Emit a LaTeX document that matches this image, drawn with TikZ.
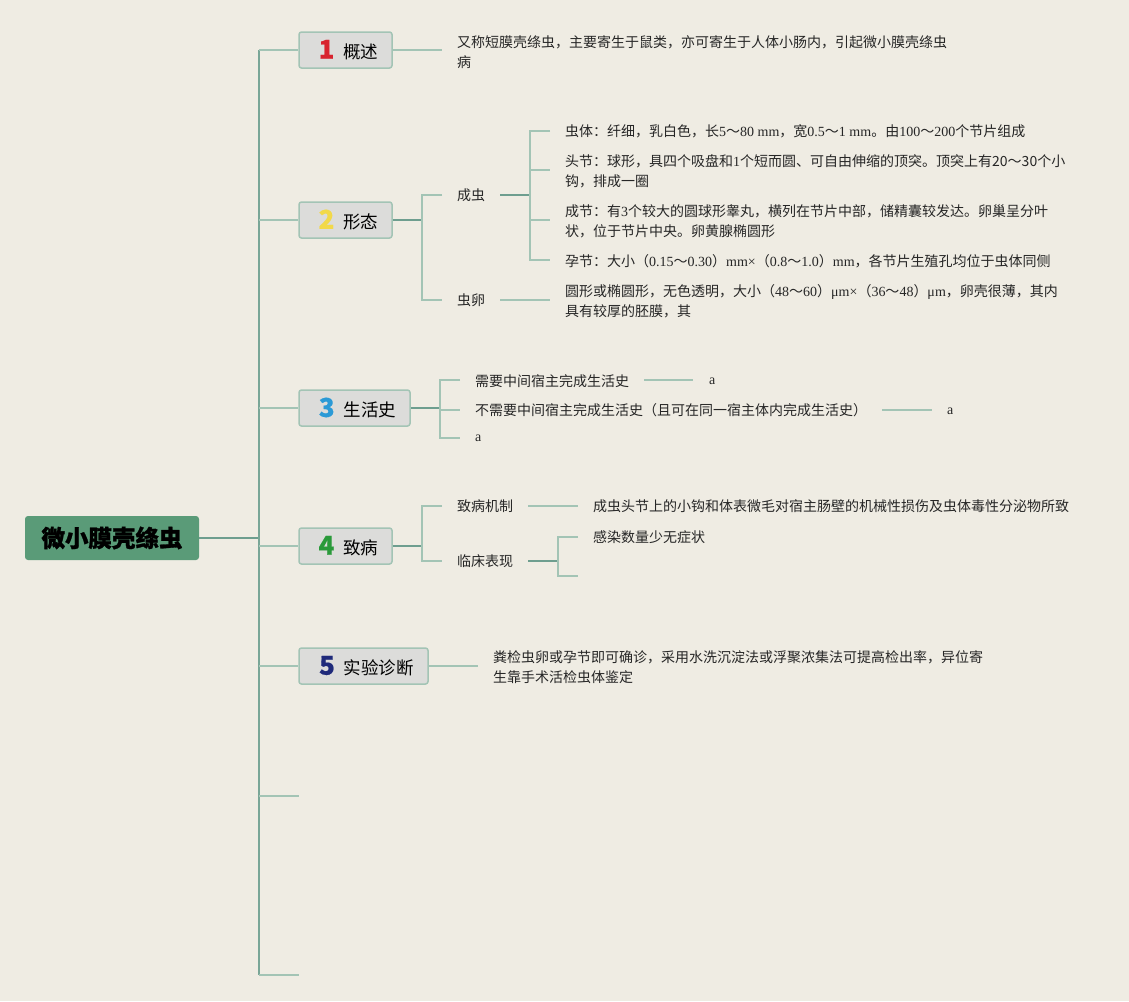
\documentclass[tikz,border=0pt]{standalone}
\usepackage{fontspec}
\newfontfamily\cjk{Noto Sans CJK SC}
\newfontfamily\cjkheavy[BoldFeatures={FakeBold=1.2}]{Noto Sans CJK SC}
\newfontfamily\cjknum[BoldFeatures={FakeBold=0.6}]{Noto Sans CJK SC}
\newfontfamily\latf{Liberation Serif}
\newcommand\ltn[1]{{\latf #1}}
\newcommand\bignum[2]{{\color{#1}\cjknum\bfseries\fontsize{26}{26}\selectfont #2}}
\definecolor{bgc}{HTML}{EFECE3}
\definecolor{darkl}{HTML}{6E9E8F}
\definecolor{lightl}{HTML}{A3C4B5}
\definecolor{rootf}{HTML}{5A9B78}
\definecolor{topf}{HTML}{DCDCDA}
\definecolor{nA}{HTML}{D8232E}
\definecolor{nB}{HTML}{F2D94A}
\definecolor{nC}{HTML}{2B9AD6}
\definecolor{nD}{HTML}{2A9A3A}
\definecolor{nE}{HTML}{1F2A7A}
\begin{document}
\begin{tikzpicture}[x=1pt,y=-1pt,
  dline/.style={draw=darkl,line width=1.8pt},
  lline/.style={draw=lightl,line width=1.8pt},
  rootbox/.style={rectangle,rounded corners=3pt,fill=rootf,minimum width=174pt,minimum height=44pt,inner sep=0pt,font=\cjkheavy\bfseries\fontsize{23.5}{26}\selectfont,text=black},
  topic/.style={rectangle,rounded corners=2.5pt,fill=topf,draw=lightl,line width=1.5pt,minimum height=36pt,inner sep=0pt,font=\cjk\fontsize{17.5}{20}\selectfont},
  txt/.style={anchor=west,inner sep=0pt,align=left,font=\cjk\fontsize{14}{20}\selectfont,text=black!85}
]
\fill[bgc] (0,0) rectangle (1129,1001);
\useasboundingbox (0,0) rectangle (1129,1001);

% root
\node[rootbox] (root) at (112,538) {微小膜壳绦虫};
\coordinate (sJ) at (259,538);
\coordinate (sTop) at (259,50);
\coordinate (sBot) at (259,975);
\draw[dline] (root.east) -- (sJ);
\draw[draw=darkl!80!lightl,line width=1.8pt] (sTop) -- (sBot);

% topics
\node[topic,minimum width=93pt] (t1) at (345.5,50) {\hspace*{6pt}\bignum{nA}{1}\hspace{9pt}概述};
\node[topic,minimum width=93pt] (t2) at (345.5,220) {\hspace*{6pt}\bignum{nB}{2}\hspace{9pt}形态};
\node[topic,minimum width=111pt] (t3) at (354.5,408) {\hspace*{6pt}\bignum{nC}{3}\hspace{9pt}生活史};
\node[topic,minimum width=93pt] (t4) at (345.5,546) {\hspace*{6pt}\bignum{nD}{4}\hspace{9pt}致病};
\node[topic,minimum width=129pt] (t5) at (363.5,666) {\hspace*{6pt}\bignum{nE}{5}\hspace{9pt}实验诊断};

\coordinate (s2) at (259,220);
\coordinate (s3) at (259,408);
\coordinate (s4) at (259,546);
\coordinate (s5) at (259,666);
\coordinate (s6) at (259,796);
\coordinate (e6) at (299,796);
\coordinate (e7) at (299,975);
\draw[lline] (sTop) -- (t1.west);
\draw[lline] (s2) -- (t2.west);
\draw[lline] (s3) -- (t3.west);
\draw[lline] (s4) -- (t4.west);
\draw[lline] (s5) -- (t5.west);
\draw[lline] (s6) -- (e6);
\draw[lline] (sBot) -- (e7);

% 1 概述
\coordinate (c1) at (442,50);
\draw[lline] (t1.east) -- (c1);
\node[txt] (d1) at (457,52) {又称短膜壳绦虫，主要寄生于鼠类，亦可寄生于人体小肠内，引起微小膜壳绦虫\\病};

% 2 形态
\coordinate (j2) at (422,220);
\coordinate (j2a) at (422,195);
\coordinate (j2b) at (422,300);
\coordinate (b2a) at (442,195);
\coordinate (b2b) at (442,300);
\draw[dline] (t2.east) -- (j2);
\draw[lline] (b2a) -- (j2a) -- (j2b) -- (b2b);
\node[txt] (cy) at (457,195) {成虫};
\node[txt] (ly) at (457,300) {虫卵};
\coordinate (cyo) at (500,195);
\coordinate (j3) at (530,195);
\draw[dline] (cyo) -- (j3);
\coordinate (j3a) at (530,131);
\coordinate (j3b) at (530,170);
\coordinate (j3c) at (530,220);
\coordinate (j3d) at (530,260);
\coordinate (k3a) at (550,131);
\coordinate (k3b) at (550,170);
\coordinate (k3c) at (550,220);
\coordinate (k3d) at (550,260);
\draw[lline] (k3a) -- (j3a) -- (j3d) -- (k3d);
\draw[lline] (j3b) -- (k3b);
\draw[lline] (j3c) -- (k3c);
\node[txt] (m1) at (565,131) {虫体：纤细，乳白色，长\ltn{5}～\ltn{80 mm}，宽\ltn{0.5}～\ltn{1 mm}。由\ltn{100}～\ltn{200}个节片组成};
\node[txt] (m2) at (565,171) {头节：球形，具四个吸盘和\ltn{1}个短而圆、可自由伸缩的顶突。顶突上有20～30个小\\钩，排成一圈};
\node[txt] (m3) at (565,221) {成节：有\ltn{3}个较大的圆球形睾丸，横列在节片中部，储精囊较发达。卵巢呈分叶\\状，位于节片中央。卵黄腺椭圆形};
\node[txt] (m4) at (565,261) {孕节：大小（\ltn{0.15}～\ltn{0.30}）\ltn{mm×}（\ltn{0.8}～\ltn{1.0}）\ltn{mm}，各节片生殖孔均位于虫体同侧};
\coordinate (lyo) at (500,300);
\coordinate (lye) at (550,300);
\draw[lline] (lyo) -- (lye);
\node[txt] (egg) at (565,301) {圆形或椭圆形，无色透明，大小（\ltn{48}～\ltn{60}）\ltn{μm×}（\ltn{36}～\ltn{48}）\ltn{μm}，卵壳很薄，其内\\具有较厚的胚膜，其};

% 3 生活史
\coordinate (j4) at (440,408);
\coordinate (j4a) at (440,380);
\coordinate (j4c) at (440,438);
\coordinate (k4a) at (460,380);
\coordinate (k4b) at (460,410);
\coordinate (k4c) at (460,438);
\draw[dline] (t3.east) -- (j4);
\draw[lline] (k4a) -- (j4a) -- (j4c) -- (k4c);
\coordinate (j4b) at (440,410);
\draw[lline] (j4b) -- (k4b);
\node[txt] (h1) at (475,381) {需要中间宿主完成生活史};
\node[txt] (h2) at (475,410) {不需要中间宿主完成生活史（且可在同一宿主体内完成生活史）};
\node[txt,font=\latf\fontsize{14}{20}\selectfont] (h3) at (475,438) {a};
\coordinate (h1s) at (644,380);
\coordinate (h1e) at (693,380);
\draw[lline] (h1s) -- (h1e);
\node[txt,font=\latf\fontsize{14}{20}\selectfont] (a1) at (709,381) {a};
\coordinate (h2s) at (882,410);
\coordinate (h2e) at (932,410);
\draw[lline] (h2s) -- (h2e);
\node[txt,font=\latf\fontsize{14}{20}\selectfont] (a2) at (947,411) {a};

% 4 致病
\coordinate (j5) at (422,546);
\coordinate (j5a) at (422,506);
\coordinate (j5b) at (422,561);
\coordinate (k5a) at (442,506);
\coordinate (k5b) at (442,561);
\draw[dline] (t4.east) -- (j5);
\draw[lline] (k5a) -- (j5a) -- (j5b) -- (k5b);
\node[txt] (p1) at (457,506) {致病机制};
\node[txt] (p2) at (457,561) {临床表现};
\coordinate (p1s) at (528,506);
\coordinate (p1e) at (578,506);
\draw[lline] (p1s) -- (p1e);
\node[txt] (p1t) at (593,506) {成虫头节上的小钩和体表微毛对宿主肠壁的机械性损伤及虫体毒性分泌物所致};
\coordinate (p2s) at (528,561);
\coordinate (j6) at (558,561);
\coordinate (j6a) at (558,537);
\coordinate (j6b) at (558,576);
\coordinate (k6a) at (578,537);
\coordinate (k6b) at (578,576);
\draw[dline] (p2s) -- (j6);
\draw[lline] (k6a) -- (j6a) -- (j6b) -- (k6b);
\node[txt] (p2t) at (593,537) {感染数量少无症状};

% 5 实验诊断
\coordinate (c5) at (478,666);
\draw[lline] (t5.east) -- (c5);
\node[txt] (d5) at (493,667) {粪检虫卵或孕节即可确诊，采用水洗沉淀法或浮聚浓集法可提高检出率，异位寄\\生靠手术活检虫体鉴定};
\end{tikzpicture}
\end{document}
